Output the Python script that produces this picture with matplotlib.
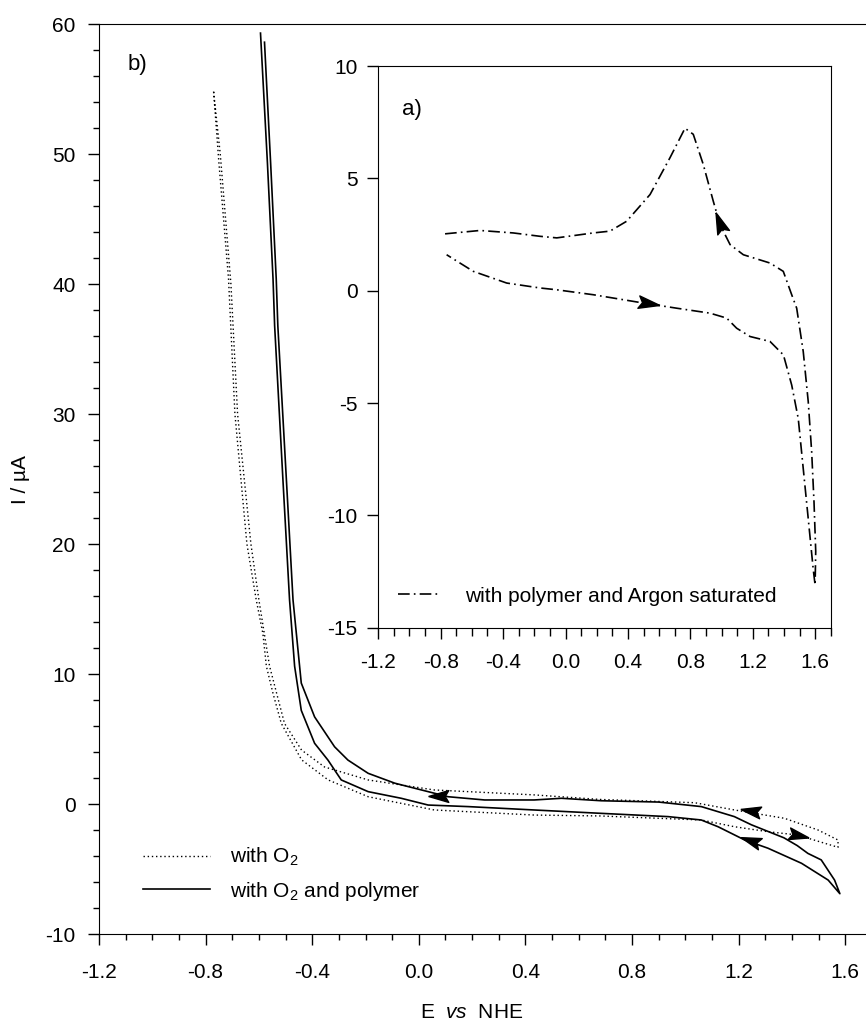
import numpy as np
import matplotlib.pyplot as plt
from matplotlib.ticker import MultipleLocator, FormatStrFormatter
from matplotlib.markers import MarkerStyle
from matplotlib.transforms import Affine2D

plt.rcParams['font.family'] = 'Liberation Sans'
plt.rcParams['mathtext.fontset'] = 'custom'
plt.rcParams['mathtext.rm'] = 'Liberation Sans'
plt.rcParams['mathtext.it'] = 'Liberation Sans:italic'
plt.rcParams['axes.unicode_minus'] = False

# b) with O2 (dotted loop)
o2_E = [-0.77, -0.75, -0.714, -0.69, -0.645, -0.61, -0.585, -0.572, -0.547, -0.516,
        -0.44, -0.34, -0.19, 0.058, 0.433, 0.68, 1.06, 1.185, 1.31, 1.42, 1.573,
        1.573, 1.498, 1.372, 1.185, 1.035, 0.68, 0.433, 0.058, -0.19, -0.354, -0.44,
        -0.504, -0.56, -0.6, -0.63, -0.68, -0.705, -0.745, -0.77]
o2_I = [54.8, 49.3, 40.4, 30, 20, 15.7, 13.1, 10.6, 8.5, 6.2,
        3.4, 1.85, 0.56, -0.46, -0.85, -0.92, -1.23, -1.75, -2.13, -2.38, -3.33,
        -2.77, -2.0, -1.1, -0.46, 0.1, 0.35, 0.7, 1.08, 1.85, 2.85, 4.15,
        6.2, 10.6, 15.7, 20, 30, 40, 50, 54.8]

# b) with O2 and polymer (solid loop)
pol_E = [-0.594, -0.568, -0.547, -0.541, -0.51, -0.485, -0.466, -0.441, -0.391, -0.341,
         -0.291, -0.19, -0.066, 0.035, 0.185, 0.433, 0.685, 0.935, 1.06, 1.123, 1.223,
         1.31, 1.436, 1.536, 1.58, 1.56, 1.51, 1.46, 1.42, 1.37, 1.248, 1.184, 1.06,
         0.9, 0.685, 0.535, 0.433, 0.247, 0.11, -0.09, -0.19, -0.266, -0.316, -0.391,
         -0.441, -0.472, -0.497, -0.529, -0.535, -0.556, -0.579]
pol_I = [59.3, 49.3, 40.4, 36.8, 25, 15.7, 10.6, 7.2, 4.67, 3.38,
         1.85, 0.95, 0.44, -0.08, -0.2, -0.46, -0.72, -0.97, -1.23, -1.75, -2.77,
         -3.4, -4.56, -5.85, -6.9, -5.85, -4.3, -3.8, -3.2, -2.6, -1.6, -0.97, -0.2,
         0.15, 0.25, 0.44, 0.31, 0.31, 0.56, 1.6, 2.36, 3.38, 4.4, 6.7,
         9.3, 15.7, 25, 36.8, 40.4, 49.3, 58.6]

# a) with polymer, Argon saturated (inset)
ar_E = [-0.772, -0.548, -0.335, -0.163, -0.056, 0.178, 0.285, 0.392, 0.542, 0.67,
        0.766, 0.819, 0.883, 0.947, 0.99, 1.055, 1.14, 1.311, 1.396, 1.45, 1.482,
        1.524, 1.556, 1.578, 1.593, 1.604, 1.6, 1.588, 1.556, 1.524, 1.492, 1.45,
        1.397, 1.311, 1.183, 1.097, 1.033, 0.926, 0.713, 0.499, 0.178, -0.056,
        -0.163, -0.377, -0.591, -0.762]
ar_I = [2.53, 2.68, 2.57, 2.42, 2.35, 2.57, 2.65, 3.09, 4.28, 5.92,
        7.23, 6.96, 5.62, 3.99, 2.95, 2.05, 1.6, 1.23, 0.86, -0.18, -0.78,
        -2.71, -4.94, -7.17, -9.4, -11.6, -13.1, -12.4, -10.15, -7.92, -5.69, -4.2,
        -2.86, -2.26, -2.04, -1.67, -1.22, -1.0, -0.78, -0.55, -0.18, 0.04,
        0.12, 0.34, 0.86, 1.6]

# scan direction arrowheads: E, I, direction (deg, screen)
main_arr_E = [0.08, 1.25, 1.42, 1.25]
main_arr_I = [0.62, -0.55, -2.38, -2.85]
main_arr_ang = [180, 170, -12, 161]
ins_arr_E = [0.99, 0.52]
ins_arr_I = [2.95, -0.57]
ins_arr_ang = [111, -9]

head = np.array([[1, 0], [-0.7, 0.5], [-0.4, 0], [-0.7, -0.5], [1, 0]])

FS = 15


def arrowhead(ax, x, y, ang, ms):
    m = MarkerStyle(head, transform=Affine2D().rotate_deg(ang))
    ax.plot([x], [y], marker=m, ms=ms, color='k', ls='none')


fig = plt.figure(figsize=(8.66, 10.22), dpi=100)

# main plot b)
ax = fig.add_axes([99/866, 88/1022, 767/866, 910/1022])
ax.plot(o2_E, o2_I, color='k', lw=1.0, ls=(0, (1, 2)), label='with O$_2$')
ax.plot(pol_E, pol_I, color='k', lw=1.2, label='with O$_2$ and polymer')
for x, y, a in zip(main_arr_E, main_arr_I, main_arr_ang):
    arrowhead(ax, x, y, a, 17)
ax.set_xlim(-1.2, 1.678)
ax.set_ylim(-10, 60)
ax.spines['right'].set_visible(False)
ax.xaxis.set_major_locator(MultipleLocator(0.4))
ax.xaxis.set_minor_locator(MultipleLocator(0.1))
ax.yaxis.set_major_locator(MultipleLocator(10))
ax.yaxis.set_minor_locator(MultipleLocator(2))
ax.xaxis.set_major_formatter(FormatStrFormatter('%.1f'))
ax.yaxis.set_major_formatter(FormatStrFormatter('%d'))
ax.tick_params(which='both', direction='out', top=False, right=False, labelsize=FS)
ax.tick_params(which='major', length=8, width=1)
ax.tick_params(which='minor', length=4.5, width=1)
ax.tick_params(axis='x', which='major', pad=13)
ax.tick_params(axis='y', which='major', pad=9)
ax.text(0.05, 0.955, 'b)', transform=ax.transAxes, fontsize=FS + 1,
        ha='center', va='center')
ax.legend(loc='upper left', bbox_to_anchor=(44/767, (934-846)/910),
          frameon=False, fontsize=FS, handlelength=3.2, handletextpad=1.0,
          labelspacing=0.55, borderpad=0, borderaxespad=0)

fig.text(472/866, 1 - 1012/1022, r'E  $\it{vs}$  NHE', ha='center', va='center', fontsize=FS)
fig.text(20/866, 1 - 480/1022, 'I / µA', ha='center', va='center', rotation=90, fontsize=FS)

# inset a)
axin = fig.add_axes([378.3/866, 1 - 627.7/1022, 452.4/866, 561.7/1022])
axin.plot(ar_E, ar_I, color='k', lw=1.2, dashes=(7, 2.5, 1, 2.5),
          label='with polymer and Argon saturated')
for x, y, a in zip(ins_arr_E, ins_arr_I, ins_arr_ang):
    arrowhead(axin, x, y, a, 18)
axin.set_xlim(-1.2, 1.7)
axin.set_ylim(-15, 10)
axin.xaxis.set_major_locator(MultipleLocator(0.4))
axin.xaxis.set_minor_locator(MultipleLocator(0.1))
axin.yaxis.set_major_locator(MultipleLocator(5))
axin.xaxis.set_major_formatter(FormatStrFormatter('%.1f'))
axin.yaxis.set_major_formatter(FormatStrFormatter('%d'))
axin.tick_params(which='both', direction='out', labelsize=FS)
axin.tick_params(which='major', length=8, width=1)
axin.tick_params(which='minor', length=5.5, width=1)
axin.tick_params(axis='x', which='major', pad=10)
axin.tick_params(axis='y', which='major', pad=7)
axin.text(0.0745, 0.9217, 'a)', transform=axin.transAxes, fontsize=FS + 1,
          ha='center', va='center')
axin.legend(loc='lower left', bbox_to_anchor=(20/452.4, 22/561.7), frameon=False,
            fontsize=FS, handlelength=2.0, handletextpad=1.2, borderpad=0, borderaxespad=0)

fig.savefig('out.png', dpi=100)
